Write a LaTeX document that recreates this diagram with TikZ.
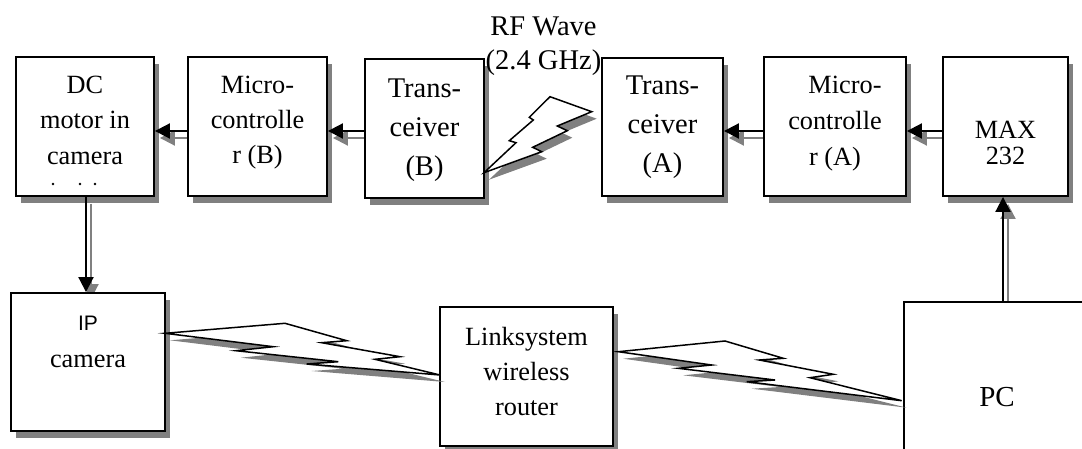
\documentclass[tikz,border=0pt]{standalone}
\usepackage{fontspec}
\setmainfont{Liberation Serif}
\setsansfont{Liberation Sans}
\usetikzlibrary{arrows.meta,shadows,backgrounds}
\definecolor{shadowgray}{HTML}{808080}
\newcommand\mltext[3]{{\fontsize{#1}{#2}\selectfont\begin{tabular}[t]{@{}c@{}}#3\end{tabular}}}
\newcommand\boltshape[1]{%
  \fill[shadowgray, shift={(5,7)}] #1;
  \filldraw[fill=white, draw=black, line width=1.5pt, line join=miter] #1;}
\tikzset{
  box/.style={draw, line width=1.9pt, fill=white, rectangle, inner sep=0pt,
    drop shadow={shadow xshift=5pt, shadow yshift=-7pt, fill=shadowgray, opacity=1}},
  txt/.style={anchor=base, inner sep=0pt},
  arr/.style={line width=2pt, -{Triangle[length=15pt,width=15pt]}},
  arrshadow/.style={arr, draw=shadowgray, fill=shadowgray, transform canvas={shift={(5pt,-7pt)}}},
}
\begin{document}
\begin{tikzpicture}[x=1pt,y=-1pt]
\useasboundingbox (0,0) rectangle (1082,449);
\clip (0,0) rectangle (1082,449);

% boxes
\node[box, minimum width=138pt, minimum height=139pt] (dc)  at (85,126.5) {};
\node[box, minimum width=139pt, minimum height=139pt] (mb)  at (257.5,126.5) {};
\node[box, minimum width=119pt, minimum height=139pt] (tb)  at (424.5,128.5) {};
\node[box, minimum width=121pt, minimum height=138pt] (ta)  at (662.5,127) {};
\node[box, minimum width=142pt, minimum height=139pt] (ma)  at (835,126.5) {};
\node[box, minimum width=125pt, minimum height=139pt] (max) at (1005.5,126.5) {};
\node[box, minimum width=154pt, minimum height=138pt] (ip)  at (88,362) {};
\node[box, minimum width=173pt, minimum height=139pt] (rt)  at (526.5,376.5) {};
\node[box, minimum width=206pt, minimum height=178pt] (pc)  at (1007,391) {};

% dots in the DC motor box
\fill (53,184) circle (1.3);
\fill (80,184) circle (1.3);
\fill (95,184) circle (1.3);

% texts
\node[txt] (dct)  at (85,93.3)    {\mltext{26.3}{35.5}{DC\\motor in\\camera}};
\node[txt] (mbt)  at (257.5,93.3) {\mltext{26.3}{35.3}{Micro-\\controlle\\r (B)}};
\node[txt] (tbt)  at (424.5,98)   {\mltext{28.5}{38.7}{Trans-\\ceiver\\(B)}};
\node[txt] (tat)  at (662.5,95)   {\mltext{28.5}{39}{Trans-\\ceiver\\(A)}};
\node[txt] (mat)  at (835,93.3)   {\mltext{26.3}{36}{\hspace*{20pt}Micro-\\controlle\\r (A)}};
\node[txt] (maxt) at (1005.5,138.3) {\mltext{26.3}{26.7}{MAX\\232}};
\node[txt] (ipt)  at (88,330)     {\mltext{26.3}{37}{{\sffamily\fontsize{21}{37}\selectfont IP}\\camera}};
\node[txt] (rtt)  at (526.5,345)  {\mltext{26.3}{35}{Linksystem\\wireless\\router}};
\node[txt] (pct)  at (997,406.7)  {\mltext{29}{34}{PC}};
\node[txt] (rf)   at (543.5,36)   {\mltext{28.5}{34}{RF Wave\\(2.4 GHz)}};

% arrow shadows
\begin{pgfonlayer}{background}
\draw[arrshadow] (mb.west |- 0,131) -- (dc.east |- 0,131);
\draw[arrshadow] (tb.west |- 0,131) -- (mb.east |- 0,131);
\draw[arrshadow] (ma.west |- 0,131) -- (ta.east |- 0,131);
\draw[arrshadow] (max.west |- 0,131) -- (ma.east |- 0,131);
\draw[arrshadow] (dc.south -| 86,0) -- (ip.north -| 86,0);
\draw[arrshadow] (pc.north -| 1003,0) -- (max.south -| 1003,0);
\end{pgfonlayer}

% arrows
\draw[arr] (mb.west |- 0,131) -- (dc.east |- 0,131);
\draw[arr] (tb.west |- 0,131) -- (mb.east |- 0,131);
\draw[arr] (ma.west |- 0,131) -- (ta.east |- 0,131);
\draw[arr] (max.west |- 0,131) -- (ma.east |- 0,131);
\draw[arr] (dc.south -| 86,0) -- (ip.north -| 86,0);
\draw[arr] (pc.north -| 1003,0) -- (max.south -| 1003,0);

% lightning bolts
\boltshape{(484,172.7) -- (516,142.7) -- (509.3,140.7) -- (533.3,120) -- (529.3,117.3) -- (550,96.7) -- (591.7,111.7) -- (557.3,126) -- (567.3,130.7) -- (532.7,147.3) -- (541.7,151.7) -- cycle}
\boltshape{(165,333.3) -- (285,323.3) -- (346.7,340.7) -- (321.7,342.7) -- (400,356.7) -- (375,359.3) -- (440,375) -- (306.7,364) -- (338.3,361.7) -- (236,350.7) -- (273.3,346.7) -- cycle}
\boltshape{(618.3,351.7) -- (725,341) -- (783.3,358.3) -- (759.3,360) -- (833.3,374.3) -- (810,377.7) -- (901.7,400.7) -- (746.7,381.7) -- (775,380) -- (678.3,368.3) -- (711.7,365) -- cycle}
\end{tikzpicture}
\end{document}
